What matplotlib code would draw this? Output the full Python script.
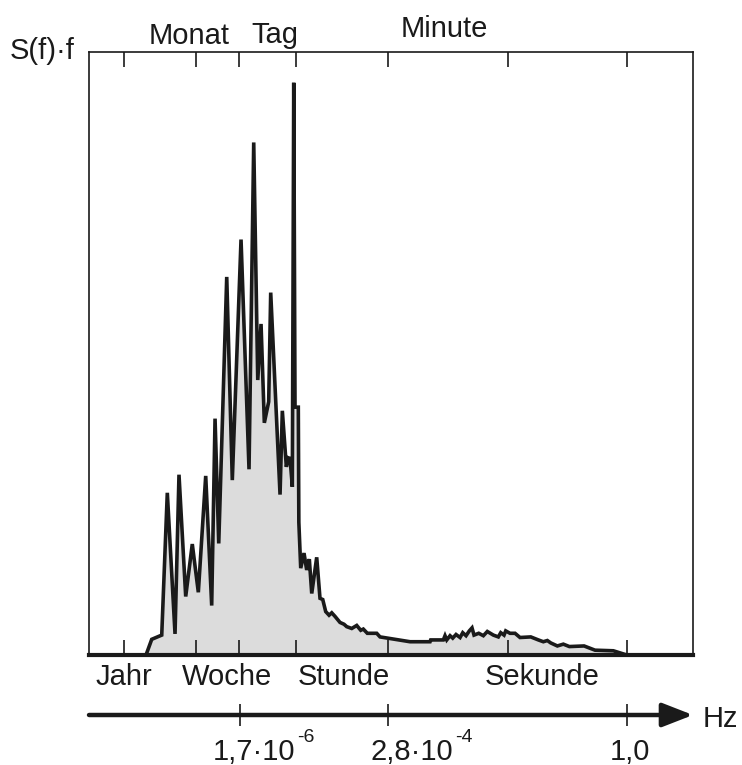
import numpy as np
import matplotlib
matplotlib.use("Agg")
import matplotlib.pyplot as plt
from matplotlib.ticker import NullLocator

# ---------------- data ----------------
# log10 of frequency in Hz, and S(f)*f in % of the axis height
log_freq = [-7.164, -7.079, -6.930, -6.847, -6.732, -6.673, -6.573, -6.475, -6.385,
            -6.275, -6.186, -6.136, -6.081, -5.962, -5.879, -5.749, -5.630, -5.560,
            -5.500, -5.451, -5.402, -5.337, -5.307, -5.168, -5.134, -5.074, -5.045,
            -5.019, -4.985, -4.964, -4.945, -4.896, -4.888, -4.860, -4.811, -4.771,
            -4.732, -4.696, -4.622, -4.573, -4.532, -4.488, -4.438, -4.398, -4.349,
            -4.275, -4.215, -4.175, -4.100, -4.026, -3.966, -3.928, -3.868, -3.728,
            -3.679, -3.232, -2.934, -2.924, -2.736, -2.711, -2.685, -2.636, -2.596,
            -2.547, -2.487, -2.447, -2.398, -2.349, -2.309, -2.279, -2.209, -2.140,
            -2.081, -1.991, -1.917, -1.881, -1.832, -1.807, -1.743, -1.668, -1.594,
            -1.434, -1.321, -1.247, -1.187, -1.136, -1.038, -0.949, -0.859, -0.640,
            -0.477, -0.204, -0.004]
spectrum = [0.0, 2.6, 3.3, 26.9, 3.5, 29.9, 9.7, 18.4, 10.4,
            29.7, 8.2, 39.2, 18.5, 62.7, 29.0, 68.9, 30.8, 85.0,
            45.6, 54.9, 38.5, 42.0, 60.1, 26.6, 40.5, 31.2, 32.7,
            32.6, 27.9, 94.9, 41.1, 41.1, 22.0, 14.4, 16.9, 14.1,
            15.9, 10.2, 16.2, 9.4, 9.2, 7.2, 6.6, 7.0, 6.4,
            5.4, 5.1, 4.7, 4.4, 4.9, 4.1, 4.3, 3.6, 3.6,
            3.0, 2.2, 2.2, 2.5, 2.5, 3.2, 2.5, 3.2, 2.8,
            3.4, 2.9, 3.7, 3.2, 4.0, 4.5, 3.3, 3.6, 3.2,
            3.9, 3.3, 3.0, 3.7, 3.3, 4.0, 3.6, 3.6, 2.9,
            3.0, 2.5, 2.2, 2.4, 2.0, 1.5, 1.8, 1.4, 1.5,
            0.8, 0.7, 0.0]

# periods (s) of the tick marks on the spectrum box
tick_periods = [31557600, 2592000, 604800, 86400, 3600, 60, 1]
top_labels = ["Monat", "Tag", "Minute"]
bottom_labels = ["Jahr", "Woche", "Stunde", "Sekunde"]
axis_ticks_hz = [1.7e-6, 2.8e-4, 1.0]
axis_tick_main = ["1,7·10", "2,8·10", "1,0"]
axis_tick_exp = ["-6", "-4", ""]
y_label = "S(f)·f"
unit_label = "Hz"

# ---------------- figure ----------------
W, H = 742, 765
plt.rcParams["font.family"] = ["Liberation Sans", "DejaVu Sans"]
fig = plt.figure(figsize=(W / 100, H / 100), dpi=100)
ink = "#1a1a1a"
FS = 21


def px_axes(l, t, r, b):
    return [l / W, (H - b) / H, (r - l) / W, (b - t) / H]


def ftext(x, y, s, size=FS, **kw):
    fig.text(x / W, 1 - y / H, s, va="baseline", fontsize=size, color=ink, **kw)


ax = fig.add_axes(px_axes(89, 52, 693, 655))
freq = 10 ** np.array(log_freq)
ax.fill_between(freq, spectrum, 0, color="#dcdcdc", lw=0, zorder=1)
ax.plot(freq, spectrum, color=ink, lw=2.6, solid_joinstyle="miter", zorder=2)
ax.set_xscale("log")
ax.set_xlim(9.7e-9, 9.6)
ax.set_ylim(0, 100)
ax.set_yticks([])
ax.set_xticks(1 / np.array(tick_periods, dtype=float))
ax.xaxis.set_minor_locator(NullLocator())
ax.tick_params(axis="x", which="both", direction="in", top=True, bottom=True,
               length=10.5, width=1.2, color=ink, labelbottom=False, labeltop=False)
for side in ["top", "left", "right"]:
    ax.spines[side].set_linewidth(1.2)
    ax.spines[side].set_color(ink)
ax.spines["bottom"].set_linewidth(3.0)
ax.spines["bottom"].set_color(ink)

# frequency arrow axis
ax2 = fig.add_axes(px_axes(89, 714, 693, 715))
ax2.set_xscale("log")
ax2.set_xlim(9.7e-9, 9.6)
ax2.set_ylim(0, 1)
for s in ax2.spines.values():
    s.set_visible(False)
ax2.set_yticks([])
ax2.set_xticks(axis_ticks_hz)
ax2.xaxis.set_minor_locator(NullLocator())
ax2.tick_params(axis="x", which="both", direction="inout", length=15.8, width=1.2,
                color=ink, labelbottom=False)
ax2.annotate("", xy=(1.0, 0.0), xytext=(0.0, 0.0), xycoords="axes fraction",
             textcoords="axes fraction",
             arrowprops=dict(arrowstyle="-|>,head_length=1.0,head_width=0.39",
                             mutation_scale=18.7, lw=3.2, color=ink,
                             shrinkA=0, shrinkB=0))

# texts
ftext(10, 59, y_label)
for s, (x, y) in zip(top_labels, [(189, 44), (275, 43), (444, 37)]):
    ftext(x, y, s, ha="center")
for s, x in zip(bottom_labels, [124, 227, 344, 542]):
    ftext(x, 685, s, ha="center")
ftext(703, 727, unit_label, ha="left")
for main, exp, xr in zip(axis_tick_main[:2], axis_tick_exp[:2], [295, 453]):
    ftext(xr, 760, main, ha="right")
    ftext(xr + 2, 742, exp, size=14, ha="left")
ftext(630, 760, axis_tick_main[2], ha="center")

fig.savefig("out.png", dpi=100)
